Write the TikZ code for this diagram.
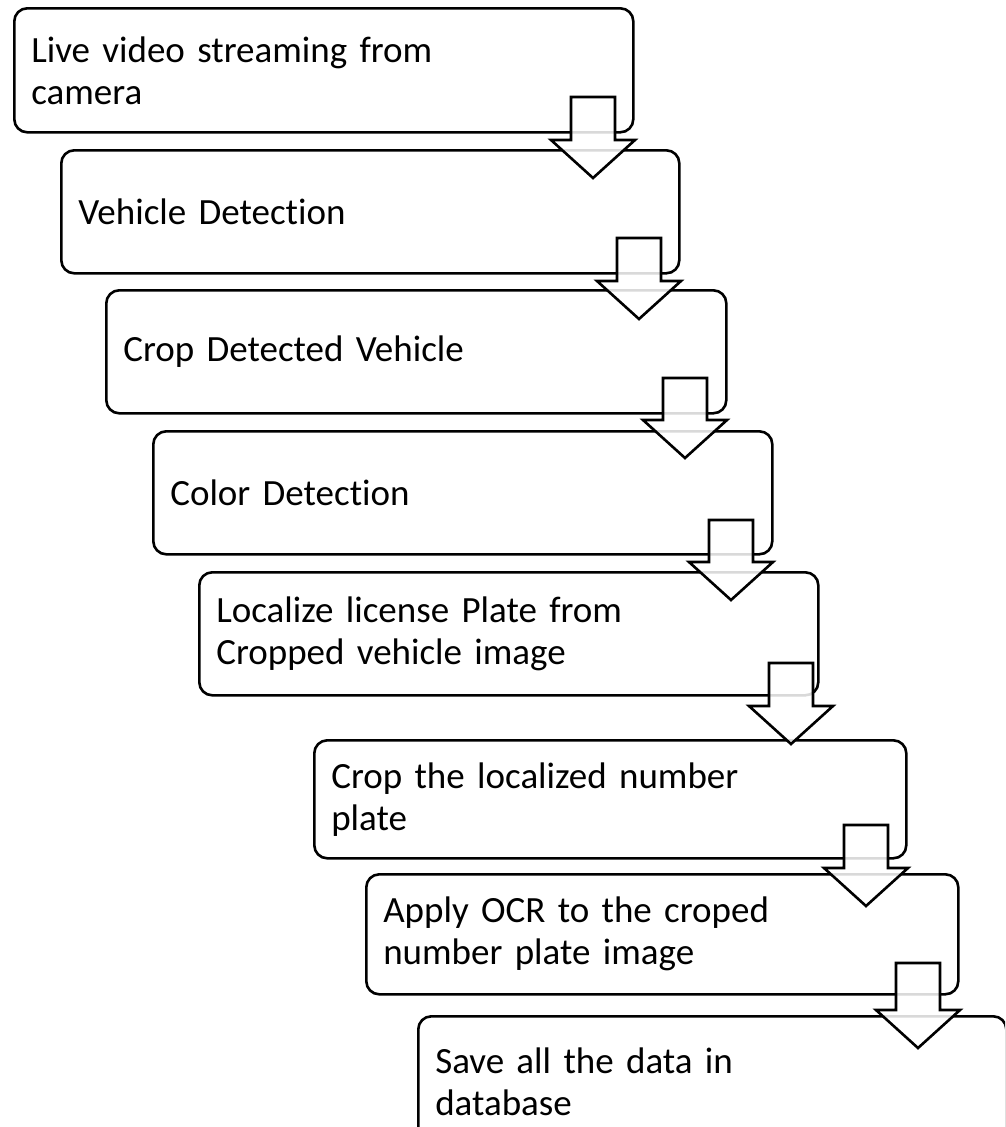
\documentclass[tikz,border=0pt]{standalone}
\usepackage{fontspec}
\setmainfont{Carlito}[Ligatures=NoCommon]
\usetikzlibrary{calc}

% Block arrow from the centre of its shaft top (#1) down to its tip (#2)
\newcommand\flowarrow[2]{%
  \draw[blockarrow] let \p1=(#1), \p2=(#2) in
    (\x2-22pt,\y1) -- (\x2+22pt,\y1) -- (\x2+22pt,\y2+38pt) --
    (\x2+42pt,\y2+38pt) -- (\x2,\y2) -- (\x2-42pt,\y2+38pt) --
    (\x2-22pt,\y2+38pt) -- cycle;}

\begin{document}
\begin{tikzpicture}[x=1pt,y=-1pt,
  stepbox/.style={draw=black, fill=white, line width=2.6pt, rounded corners=13pt,
    anchor=north west, align=left, inner xsep=17pt, inner ysep=0pt,
    font=\fontsize{37}{42}\selectfont},
  blockarrow/.style={draw=black, line width=2.6pt, fill=white, fill opacity=0.85,
    line join=miter}]
\useasboundingbox (0,0) rectangle (1005,1127);
\clip (0,0) rectangle (1005,1127);

% process steps
\node[stepbox, text width=585pt, minimum height=124pt] (b1) at (13,7)
  {Live video streaming from\\camera};
\node[stepbox, text width=584pt, minimum height=123pt] (b2) at (60,149)
  {Vehicle Detection};
\node[stepbox, text width=586pt, minimum height=123pt] (b3) at (105,289)
  {Crop Detected Vehicle};
\node[stepbox, text width=585pt, minimum height=123pt] (b4) at (152,430)
  {Color Detection};
\node[stepbox, text width=585pt, minimum height=123pt] (b5) at (198,571)
  {Localize license Plate from\\Cropped vehicle image};
\node[stepbox, text width=558pt, minimum height=118pt] (b6) at (313,739)
  {Crop the localized number\\plate};
\node[stepbox, text width=558pt, minimum height=120pt] (b7) at (365,873)
  {Apply OCR to the croped\\number plate image};
\node[stepbox, text width=554pt, minimum height=130pt] (b8) at (417,1015)
  {Save all the data in\\database};

% arrow ends
\coordinate (s1) at (592,97);   \coordinate (t1) at (593,178);
\coordinate (s2) at (638,238);  \coordinate (t2) at (639,319);
\coordinate (s3) at (685,378);  \coordinate (t3) at (685,458);
\coordinate (s4) at (731,520);  \coordinate (t4) at (731,600);
\coordinate (s5) at (791,663);  \coordinate (t5) at (791,744);
\coordinate (s6) at (866,825);  \coordinate (t6) at (866,906);
\coordinate (s7) at (918,963);  \coordinate (t7) at (918,1048);

\flowarrow{s1}{t1}
\flowarrow{s2}{t2}
\flowarrow{s3}{t3}
\flowarrow{s4}{t4}
\flowarrow{s5}{t5}
\flowarrow{s6}{t6}
\flowarrow{s7}{t7}
\end{tikzpicture}
\end{document}
